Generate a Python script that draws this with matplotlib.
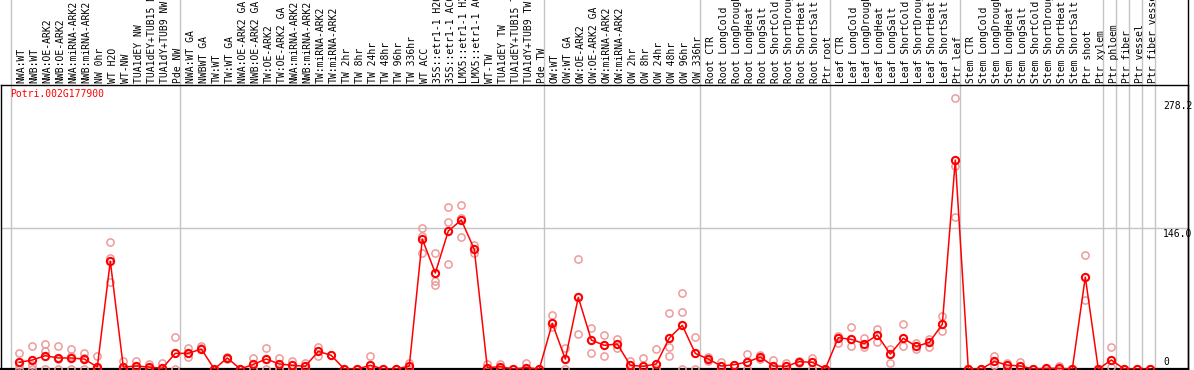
import matplotlib
matplotlib.use("Agg")
import matplotlib.pyplot as plt

# sample names, left to right
labels = [
    "NWA:WT", "NWB:WT", "NWA:OE-ARK2", "NWB:OE-ARK2", "NWA:miRNA-ARK2", "NWB:miRNA-ARK2",
    "NW 0hr", "WT H2O", "WT-NW", "TUA1dEY NW", "TUA1dEY+TUB15 NW", "TUA1dY+TUB9 NW", "Pde NW",
    "NWA:WT GA", "NWBWT GA", "TW:WT", "TW:WT GA", "NWA:OE-ARK2 GA", "NWB:OE-ARK2 GA",
    "TW:OE-ARK2", "TW:OE-ARK2 GA", "NWA:miRNA-ARK2", "NWB:miRNA-ARK2", "TW:miRNA-ARK2",
    "TW:miRNA-ARK2", "TW 2hr", "TW 8hr", "TW 24hr", "TW 48hr", "TW 96hr", "TW 336hr",
    "WT ACC", "35S::etr1-1 H2O", "35S::etr1-1 ACC", "LMX5::etr1-1 H2O", "LMX5::etr1-1 ACC",
    "WT-TW", "TUA1dEY TW", "TUA1dEY+TUB15 TW", "TUA1dY+TUB9 TW", "Pde TW",
    "OW:WT", "OW:WT GA", "OW:OE-ARK2", "OW:OE-ARK2 GA", "OW:miRNA-ARK2", "OW:miRNA-ARK2",
    "OW 2hr", "OW 8hr", "OW 24hr", "OW 48hr", "OW 96hr", "OW 336hr",
    "Root CTR", "Root LongCold", "Root LongDrought", "Root LongHeat", "Root LongSalt",
    "Root ShortCold", "Root ShortDrought", "Root ShortHeat", "Root ShortSalt", "Ptr root",
    "Leaf CTR", "Leaf LongCold", "Leaf LongDrought", "Leaf LongHeat", "Leaf LongSalt",
    "Leaf ShortCold", "Leaf ShortDrought", "Leaf ShortHeat", "Leaf ShortSalt", "Ptr leaf",
    "Stem CTR", "Stem LongCold", "Stem LongDrought", "Stem LongHeat", "Stem LongSalt",
    "Stem ShortCold", "Stem ShortDrought", "Stem ShortHeat", "Stem ShortSalt", "Ptr shoot",
    "Ptr xylem", "Ptr phloem", "Ptr fiber", "Ptr vessel", "Ptr fiber vessel",
]

# last sample index of each block (group separators)
group_ends = [-1, 12, 40, 52, 62, 72, 83, 84, 85, 86, 87]

means = [
    6.9, 9.3, 13.8, 11.4, 11.4, 10.3, 2.1, 111.7, 2.0, 3.1, 2.0, 0.7, 16.2,
    16.2, 20.7, 0, 11.4, 0, 4.8, 10.3, 5.2, 3.8, 2.8, 18.3, 14.1, 0, 0, 3.8, 0, 0, 3.1,
    134.6, 99.4, 142.9, 154.3, 123.9, 1.4, 2.4, 0, 1.4, 0,
    47.3, 10.3, 74.2, 30.0, 24.5, 25.9, 3.8, 2.8, 5.2, 32.1, 45.2, 16.2,
    10.3, 3.1, 4.5, 7.2, 12.4, 3.1, 2.8, 7.6, 6.9, 0.3,
    32.4, 30.7, 26.2, 35.2, 15.5, 31.8, 23.4, 27.6, 46.3, 216.4,
    0, 0, 7.9, 4.1, 3.1, 0, 0.7, 0.7, 0, 95.2, 0,
    9.3, 0, 0, 0,
]

reps = [
    [16.2, 4.5, 0], [23.4, 4.0, 0], [25.5, 18.6, 0], [23.4, 10.0, 0], [20.7, 13.8, 0],
    [16.2, 11.4, 0], [13.8, 0, 0], [131.0, 114.5, 89.7], [8.0, 0], [8.0, 0], [5.5, 0],
    [6.6, 0], [33.1, 0], [21.4, 12.8], [23.8, 21.4], [0], [12.8, 10.0], [0],
    [11.4, 0], [21.4, 0], [11.4, 0], [8.3, 0], [5.9, 0], [22.4, 13.8], [14.1],
    [0], [0], [13.4, 0], [0], [0], [6.6, 0],
    [146.0, 138.0, 119.8], [119.8, 91.5, 86.6], [167.8, 151.9, 108.4],
    [169.5, 156.0, 136.4], [128.4, 119.8], [5.2, 0], [5.5, 0], [0], [6.6, 0], [0],
    [55.5, 43.8], [21.4, 0], [113.6, 35.9], [42.1, 16.2], [34.9, 13.8], [30.7, 21.4],
    [8.6, 0], [11.4, 0], [20.7, 0], [57.6, 23.1, 13.4], [78.4, 58.7, 0], [33.5, 0],
    [12.8, 8.0], [7.6, 0], [4.5], [15.5, 0], [14.1, 10.0], [9.3, 0], [6.6, 0],
    [8.6, 6.0], [11.7, 0], [0],
    [34.5, 26.6], [43.1, 24.2], [31.8, 22.8], [41.8, 27.6], [20.4, 5.9], [46.3, 23.4],
    [26.6, 21.1], [31.1, 22.8], [54.9, 39.0], [280.3, 210.2, 157.7],
    [0], [0], [13.4, 4.1], [6.6, 0], [7.2, 0], [0], [0], [3.1, 0], [0], [118.0, 71.0], [0],
    [22.4, 2.4], [0], [0], [0],
]

title = "Potri.002G177900"
ytick_vals = [0, 146.0, 278.2]
ytick_text = ["0", "146.0", "278.2"]

W, H = 1194, 370
fig = plt.figure(figsize=(W / 100, H / 100), dpi=100)
# plot box in pixels: x 1..1188, y 85..369 (from top)
ax = fig.add_axes([1 / W, (H - 369) / H, 1187 / W, 284 / H])
ax.set_xlim((1 - 19.3) / 13, (1188 - 19.3) / 13)
ax.set_ylim(0, 294.1)

mono = "DejaVu Sans Mono"
red = "#FF0000"
pink = "#EE9A9A"
grey = "#C4C4C4"

x = list(range(len(labels)))
rx, ry = [], []
for i, r in enumerate(reps):
    for v in r:
        rx.append(i)
        ry.append(v)
ax.plot(rx, ry, "o", ms=5.2, mfc="none", mec=pink, mew=1.1, clip_on=False, zorder=3)
ax.plot(x, means, "-", color=red, lw=1.1, zorder=4)
ax.plot(x, means, "o", ms=5.2, mfc="none", mec=red, mew=1.5, clip_on=False, zorder=5)

# grid line at 146
ax.axhline(146.0, color=grey, lw=1, zorder=1)

# group separators, running up through the header
head = 85 / 284
for g in group_ends:
    ax.plot([g + 0.36, g + 0.36], [0, 1 + head], color=grey, lw=1,
            transform=ax.get_xaxis_transform(), clip_on=False, zorder=1)
ax.plot([1, 1], [0, 1 + head], color="black", lw=1,
        transform=ax.transAxes, clip_on=False)

for i, lab in enumerate(labels):
    ax.annotate(lab, xy=(i, 1), xycoords=("data", "axes fraction"),
                xytext=(2.5, 2), textcoords="offset pixels", rotation=90,
                ha="center", va="bottom", fontsize=7, family=mono,
                annotation_clip=False)

ax.text(0.0075, 0.985, title, transform=ax.transAxes, color=red,
        fontsize=7, family=mono, va="top", ha="left")

yx = (1163 - 19.3) / 13
for v, t in zip(ytick_vals, ytick_text):
    if v == 0:
        ax.annotate(t, xy=(yx, v), xytext=(0, 2), textcoords="offset pixels",
                    ha="left", va="bottom", fontsize=7, family=mono)
    else:
        ax.annotate(t, xy=(yx, v), xytext=(0, -1), textcoords="offset pixels",
                    ha="left", va="top", fontsize=7, family=mono)

ax.set_xticks([])
ax.set_yticks([])
for s in ax.spines.values():
    s.set_color("black")
    s.set_linewidth(1)
ax.spines["bottom"].set_linewidth(1.6)

fig.savefig("out.png", dpi=100)
